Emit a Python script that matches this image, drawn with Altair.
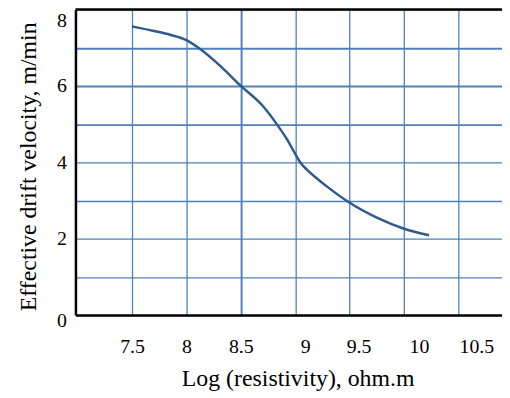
import altair as alt
import pandas as pd

# curve
resistivity = [7.5, 7.7, 7.85, 8.0, 8.11, 8.32, 8.5, 8.7, 8.83, 8.92, 9.0, 9.05, 9.11, 9.29, 9.5, 9.75, 10.0, 10.23]
velocity = [7.56, 7.44, 7.34, 7.2, 7.0, 6.5, 6.0, 5.48, 5.0, 4.62, 4.22, 3.98, 3.8, 3.37, 2.94, 2.55, 2.26, 2.09]

x_ticks = [7.5, 8, 8.5, 9, 9.5, 10, 10.5]
y_ticks = [0, 1, 2, 3, 4, 5, 6, 7, 8]
top_value = [8]

x_title = "Log (resistivity), ohm.m"
y_title = "Effective drift velocity, m/min"

FONT = "Liberation Serif"
GRID = "#4F81BD"
CURVE = "#2F5A8C"

df = pd.DataFrame({"x": resistivity, "y": velocity})

xscale = alt.Scale(domain=[6.98, 10.9], nice=False, zero=False)
yscale = alt.Scale(domain=[0, 8], nice=False)

x_label_offset = {"condition": [
    {"test": "datum.value == 9", "value": 10},
    {"test": "datum.value == 9.5", "value": 9},
    {"test": "datum.value == 10", "value": 15},
    {"test": "datum.value == 10.5", "value": 18},
], "value": 0}
y_label_offset = {"condition": [
    {"test": "datum.value == 8", "value": 11},
    {"test": "datum.value == 0", "value": 6},
], "value": 0}
x_grid_width = {"condition": {"test": "datum.value == 8.5", "value": 2}, "value": 1.3}
y_grid_width = {"condition": {"test": "datum.value >= 5 && datum.value <= 7", "value": 2}, "value": 1.3}

x_axis = alt.Axis(values=x_ticks, title=x_title, grid=True, gridColor=GRID, gridWidth=x_grid_width,
                  gridOpacity=1, ticks=False, domainColor="black", domainWidth=2.5,
                  labelExpr="format(datum.value, '~g')", labelOffset=x_label_offset,
                  labelFont=FONT, labelFontSize=20, labelColor="black", labelPadding=22,
                  titleFont=FONT, titleFontSize=24, titleFontWeight="normal", titleColor="black",
                  titlePadding=10, titleX=224, labelFlush=False, labelOverlap=False)
y_axis = alt.Axis(values=y_ticks, title=y_title, grid=True, gridColor=GRID, gridWidth=y_grid_width,
                  gridOpacity=1, ticks=False, domainColor="black", domainWidth=2.5,
                  labelExpr="datum.value % 2 == 0 ? datum.label : ''", labelOffset=y_label_offset,
                  labelFont=FONT, labelFontSize=20, labelColor="black", labelPadding=9,
                  titleFont=FONT, titleFontSize=24, titleFontWeight="normal", titleColor="black",
                  titlePadding=16, titleY=158, labelFlush=False, labelOverlap=False)

line = alt.Chart(df).mark_line(color=CURVE, strokeWidth=2.5, interpolate="monotone").encode(
    x=alt.X("x:Q", scale=xscale, axis=x_axis),
    y=alt.Y("y:Q", scale=yscale, axis=y_axis),
)

top = alt.Chart(pd.DataFrame({"y": top_value})).mark_rule(color="black", strokeWidth=2.5).encode(
    y=alt.Y("y:Q", scale=yscale, axis=y_axis)
)

chart = alt.layer(line, top).properties(
    width=430, height=308,
    autosize=alt.AutoSizeParams(type="none"),
    padding={"left": 68, "top": 0, "right": 0, "bottom": 82},
).configure_view(stroke=None)

chart.save("out.html", embed_options={"renderer": "svg", "actions": False})
